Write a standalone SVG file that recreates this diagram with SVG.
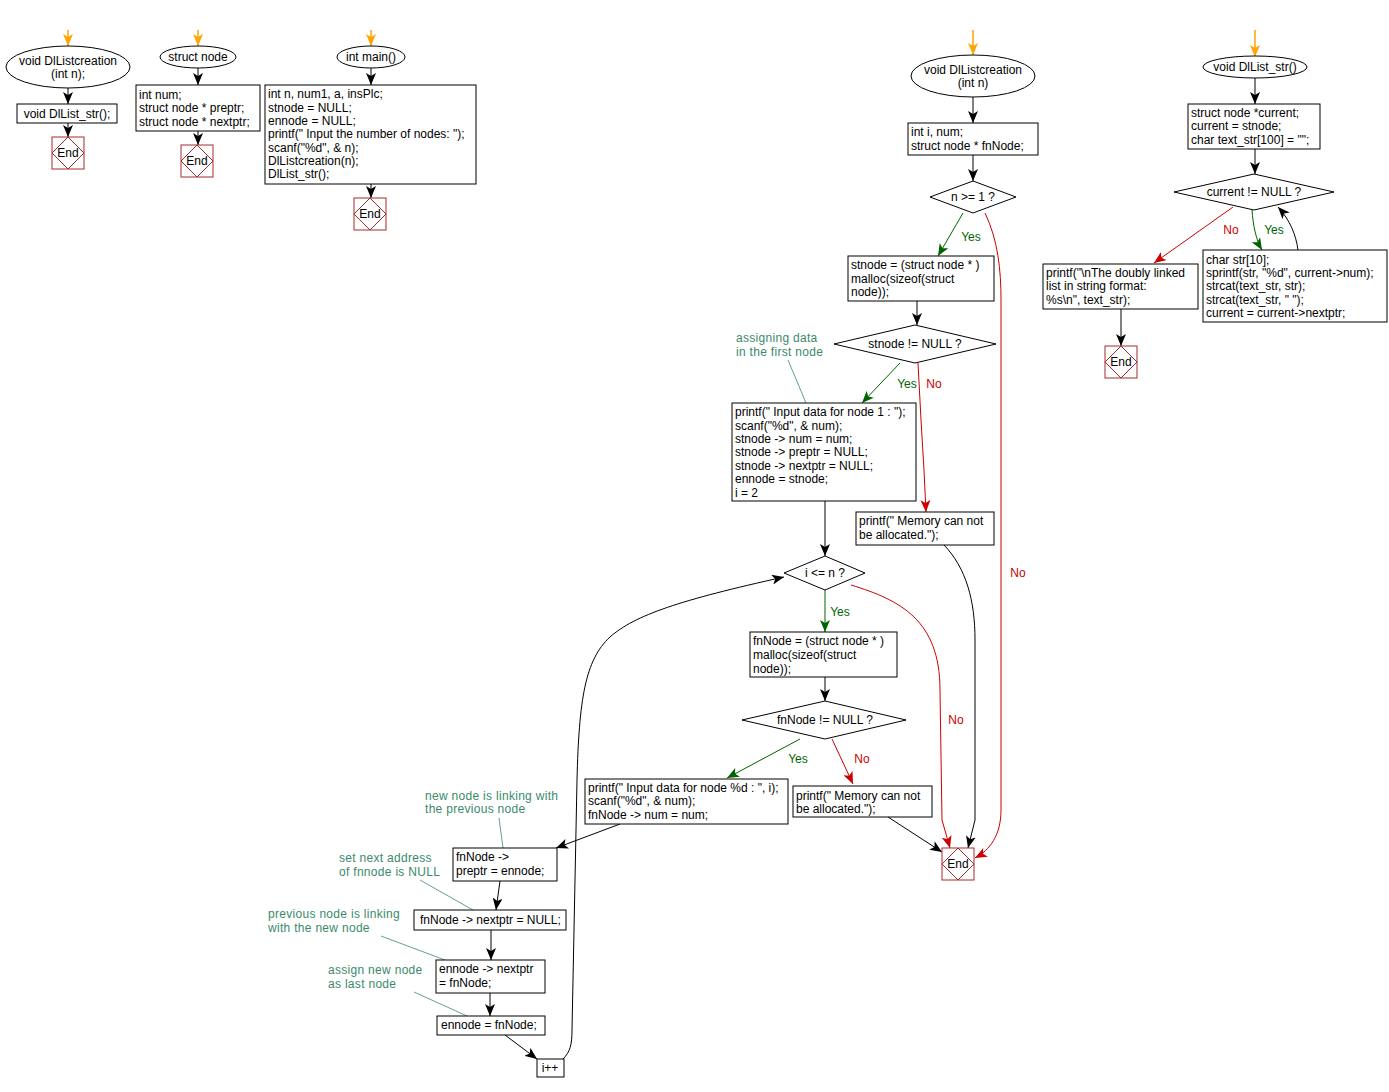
<svg xmlns="http://www.w3.org/2000/svg" width="1389" height="1092" viewBox="0 0 1389 1092">
<defs>
<marker id="ab" markerUnits="userSpaceOnUse" markerWidth="12" markerHeight="10" viewBox="0 0 12 10" refX="12" refY="5" orient="auto"><path d="M0,0 L12,5 L0,10 L3,5 z" fill="#000"/></marker>
<marker id="ag" markerUnits="userSpaceOnUse" markerWidth="12" markerHeight="10" viewBox="0 0 12 10" refX="12" refY="5" orient="auto"><path d="M0,0 L12,5 L0,10 L3,5 z" fill="#006400"/></marker>
<marker id="ar" markerUnits="userSpaceOnUse" markerWidth="12" markerHeight="10" viewBox="0 0 12 10" refX="12" refY="5" orient="auto"><path d="M0,0 L12,5 L0,10 L3,5 z" fill="#cc0000"/></marker>
<marker id="ao" markerUnits="userSpaceOnUse" markerWidth="12" markerHeight="10" viewBox="0 0 12 10" refX="12" refY="5" orient="auto"><path d="M0,0 L12,5 L0,10 L3,5 z" fill="#ffa500"/></marker>
</defs>
<style>
text{font-family:"Liberation Sans",Arial,sans-serif;font-size:12px;fill:#000}
.c{text-anchor:middle}
.box{fill:#fff;stroke:#000;stroke-width:1}
.end rect,.end polygon{fill:none;stroke:#a52a2a;stroke-width:1}
.bk{fill:none;stroke:#000;stroke-width:1;marker-end:url(#ab)}
.gr{fill:none;stroke:#006400;stroke-width:1;marker-end:url(#ag)}
.rd{fill:none;stroke:#cc0000;stroke-width:1;marker-end:url(#ar)}
.or{fill:none;stroke:#ffa500;stroke-width:1.5;marker-end:url(#ao)}
.gl{fill:#006400}
.rl{fill:#cc0000}
.note{fill:#3a8a6a;letter-spacing:0.3px}
.ld{fill:none;stroke:#3a8a6a;stroke-width:0.8}
</style>
<rect width="1389" height="1092" fill="#fff"/>

<g id="connectors">
<line class="or" x1="68" y1="30" x2="68" y2="46"/>
<line class="bk" x1="68" y1="88" x2="68" y2="104"/>
<line class="bk" x1="68" y1="123" x2="68" y2="137"/>
<line class="or" x1="198" y1="30" x2="198" y2="46"/>
<line class="bk" x1="198" y1="68" x2="198" y2="85"/>
<line class="bk" x1="198" y1="131" x2="198" y2="145"/>
<line class="or" x1="371" y1="30" x2="371" y2="46"/>
<line class="bk" x1="371" y1="68" x2="371" y2="85"/>
<line class="bk" x1="371" y1="184" x2="371" y2="198"/>

<line class="or" x1="973" y1="30" x2="973" y2="55"/>
<line class="bk" x1="973" y1="97" x2="973" y2="123"/>
<line class="bk" x1="973" y1="155" x2="973" y2="181"/>
<line class="gr" x1="963" y1="213" x2="938" y2="256"/>
<text class="gl c" x="971" y="241">Yes</text>
<line class="bk" x1="917" y1="301" x2="917" y2="325"/>
<line class="gr" x1="900" y1="363" x2="862" y2="403"/>
<text class="gl c" x="907" y="388">Yes</text>
<path class="rd" d="M918,363 L921,420 L924,470 L926,512"/>
<text class="rl c" x="934" y="388">No</text>
<path class="bk" d="M944,545 C966,568 975,600 975,640 L975,820 L968,848"/>
<path class="rd" d="M985,213 C998,240 1001,270 1001,300 L1001,810 C1001,835 990,850 975,858"/>
<text class="rl c" x="1018" y="577">No</text>
<line class="bk" x1="825" y1="501" x2="825" y2="556"/>
<line class="gr" x1="825" y1="590" x2="825" y2="632"/>
<text class="gl c" x="840" y="616">Yes</text>
<path class="rd" d="M851,585 C900,600 940,620 940,690 L942,820 L950,848"/>
<text class="rl c" x="956" y="724">No</text>
<line class="bk" x1="825" y1="677" x2="825" y2="701"/>
<line class="gr" x1="800" y1="739" x2="727" y2="778"/>
<text class="gl c" x="798" y="763">Yes</text>
<line class="rd" x1="832" y1="739" x2="853" y2="784"/>
<text class="rl c" x="862" y="763">No</text>
<line class="bk" x1="888" y1="817" x2="942" y2="852"/>
<line class="bk" x1="620" y1="824" x2="556" y2="848"/>
<line class="bk" x1="500" y1="881" x2="496" y2="910"/>
<line class="bk" x1="491" y1="930" x2="491" y2="960"/>
<line class="bk" x1="490" y1="993" x2="490" y2="1016"/>
<line class="bk" x1="505" y1="1035" x2="537" y2="1059"/>
<path class="bk" d="M563,1059 C570,1052 572,1045 572,1030 L577,780 C579,700 585,660 610,637 C635,615 680,600 784,577"/>

<line class="or" x1="1255" y1="30" x2="1255" y2="57"/>
<line class="bk" x1="1255" y1="78" x2="1255" y2="104"/>
<line class="bk" x1="1255" y1="149" x2="1255" y2="174"/>
<line class="rd" x1="1233" y1="207" x2="1154" y2="263"/>
<text class="rl c" x="1231" y="234">No</text>
<path class="gr" d="M1252,210 C1253,225 1256,240 1262,250"/>
<text class="gl c" x="1274" y="234">Yes</text>
<path class="bk" d="M1298,250 C1296,235 1290,220 1278,207"/>
<line class="bk" x1="1121" y1="309" x2="1121" y2="346"/>

<line class="ld" x1="788" y1="360" x2="806" y2="403"/>
<line class="ld" x1="499" y1="818" x2="503" y2="848"/>
<line class="ld" x1="420" y1="880" x2="473" y2="910"/>
<line class="ld" x1="381" y1="936" x2="445" y2="960"/>
<line class="ld" x1="414" y1="992" x2="467" y2="1016"/>
</g>

<g id="n1"><ellipse class="box" cx="68" cy="67" rx="62" ry="21"/><text class="c" x="68" y="65">void DlListcreation</text><text class="c" x="68" y="78">(int n);</text></g>
<g id="n2"><rect class="box" x="17" y="104" width="100" height="19"/><text class="c" x="67" y="118">void DlList_str();</text></g>
<g id="n3" class="end"><rect x="52" y="137" width="32" height="32"/><polygon points="68,137 84,153 68,169 52,153"/><text class="c" x="68" y="157">End</text></g>

<g id="n4"><ellipse class="box" cx="198" cy="57" rx="38" ry="11"/><text class="c" x="198" y="61">struct node</text></g>
<g id="n5"><rect class="box" x="136" y="85" width="124" height="46"/><text x="139" y="99">int num;</text><text x="139" y="112">struct node * preptr;</text><text x="139" y="126">struct node * nextptr;</text></g>
<g id="n6" class="end"><rect x="181" y="145" width="32" height="32"/><polygon points="197,145 213,161 197,177 181,161"/><text class="c" x="197" y="165">End</text></g>

<g id="n7"><ellipse class="box" cx="371" cy="57" rx="34" ry="11"/><text class="c" x="371" y="61">int main()</text></g>
<g id="n8"><rect class="box" x="265" y="85" width="211" height="99"/><text x="268" y="98">int n, num1, a, insPlc;</text><text x="268" y="112">stnode = NULL;</text><text x="268" y="125">ennode = NULL;</text><text x="268" y="138">printf(" Input the number of nodes: ");</text><text x="268" y="152">scanf("%d", &amp; n);</text><text x="268" y="165">DlListcreation(n);</text><text x="268" y="178">DlList_str();</text></g>
<g id="n9" class="end"><rect x="354" y="198" width="32" height="32"/><polygon points="370,198 386,214 370,230 354,214"/><text class="c" x="370" y="218">End</text></g>

<g id="n10"><ellipse class="box" cx="973" cy="76" rx="62" ry="21"/><text class="c" x="973" y="74">void DlListcreation</text><text class="c" x="973" y="87">(int n)</text></g>
<g id="n11"><rect class="box" x="908" y="123" width="130" height="32"/><text x="911" y="136">int i, num;</text><text x="911" y="150">struct node * fnNode;</text></g>
<g id="n12"><polygon class="box" points="930,197 973,181 1016,197 973,213"/><text class="c" x="973" y="201">n &gt;= 1 ?</text></g>
<g id="n13"><rect class="box" x="848" y="256" width="146" height="45"/><text x="851" y="269">stnode = (struct node * )</text><text x="851" y="283">malloc(sizeof(struct</text><text x="851" y="296">node));</text></g>
<g id="n14"><polygon class="box" points="834,344 915,325 996,344 915,363"/><text class="c" x="915" y="348">stnode != NULL ?</text></g>
<g id="n15"><rect class="box" x="732" y="403" width="184" height="98"/><text x="735" y="416">printf(" Input data for node 1 : ");</text><text x="735" y="430">scanf("%d", &amp; num);</text><text x="735" y="443">stnode -&gt; num = num;</text><text x="735" y="456">stnode -&gt; preptr = NULL;</text><text x="735" y="470">stnode -&gt; nextptr = NULL;</text><text x="735" y="483">ennode = stnode;</text><text x="735" y="497">i = 2</text></g>
<g id="a1"><text class="note" x="736" y="342">assigning data</text><text class="note" x="736" y="356">in the first node</text></g>
<g id="n16"><rect class="box" x="856" y="512" width="138" height="33"/><text x="859" y="525">printf(" Memory can not</text><text x="859" y="539">be allocated.");</text></g>
<g id="n17"><polygon class="box" points="784,573 825,556 865,573 825,590"/><text class="c" x="825" y="577">i &lt;= n ?</text></g>
<g id="n18"><rect class="box" x="750" y="632" width="147" height="45"/><text x="753" y="645">fnNode = (struct node * )</text><text x="753" y="659">malloc(sizeof(struct</text><text x="753" y="673">node));</text></g>
<g id="n19"><polygon class="box" points="742,720 825,701 906,720 825,739"/><text class="c" x="825" y="724">fnNode != NULL ?</text></g>
<g id="n20"><rect class="box" x="585" y="779" width="203" height="45"/><text x="588" y="792">printf(" Input data for node %d : ", i);</text><text x="588" y="805">scanf("%d", &amp; num);</text><text x="588" y="819">fnNode -&gt; num = num;</text></g>
<g id="n21"><rect class="box" x="793" y="786" width="139" height="31"/><text x="796" y="800">printf(" Memory can not</text><text x="796" y="813">be allocated.");</text></g>
<g id="n22" class="end"><rect x="942" y="848" width="32" height="32"/><polygon points="958,848 974,864 958,880 942,864"/><text class="c" x="958" y="868">End</text></g>
<g id="n23"><rect class="box" x="453" y="848" width="104" height="33"/><text x="456" y="861">fnNode -&gt;</text><text x="456" y="875">preptr = ennode;</text></g>
<g id="a2"><text class="note" x="425" y="800">new node is linking with</text><text class="note" x="425" y="813">the previous node</text></g>
<g id="n24"><rect class="box" x="414" y="910" width="152" height="20"/><text x="420" y="924">fnNode -&gt; nextptr = NULL;</text></g>
<g id="a3"><text class="note" x="339" y="862">set next address</text><text class="note" x="339" y="876">of fnnode is NULL</text></g>
<g id="n25"><rect class="box" x="436" y="960" width="109" height="33"/><text x="439" y="973">ennode -&gt; nextptr</text><text x="439" y="987">= fnNode;</text></g>
<g id="a4"><text class="note" x="268" y="918">previous node is linking</text><text class="note" x="268" y="932">with the new node</text></g>
<g id="n26"><rect class="box" x="437" y="1016" width="108" height="19"/><text x="441" y="1029">ennode = fnNode;</text></g>
<g id="a5"><text class="note" x="328" y="974">assign new node</text><text class="note" x="328" y="988">as last node</text></g>
<g id="n27"><rect class="box" x="537" y="1059" width="27" height="18"/><text class="c" x="550" y="1072">i++</text></g>

<g id="n28"><ellipse class="box" cx="1255" cy="67" rx="52" ry="11"/><text class="c" x="1255" y="71">void DlList_str()</text></g>
<g id="n29"><rect class="box" x="1188" y="104" width="132" height="45"/><text x="1191" y="117">struct node *current;</text><text x="1191" y="130">current = stnode;</text><text x="1191" y="144">char text_str[100] = "";</text></g>
<g id="n30"><polygon class="box" points="1174,192 1254,174 1334,192 1254,210"/><text class="c" x="1254" y="196">current != NULL ?</text></g>
<g id="n31"><rect class="box" x="1203" y="250" width="184" height="72"/><text x="1206" y="264">char str[10];</text><text x="1206" y="277">sprintf(str, "%d", current-&gt;num);</text><text x="1206" y="290">strcat(text_str, str);</text><text x="1206" y="304">strcat(text_str, " ");</text><text x="1206" y="317">current = current-&gt;nextptr;</text></g>
<g id="n32"><rect class="box" x="1043" y="264" width="155" height="45"/><text x="1046" y="277">printf("\nThe doubly linked</text><text x="1046" y="290">list in string format:</text><text x="1046" y="304">%s\n", text_str);</text></g>
<g id="n33" class="end"><rect x="1105" y="346" width="32" height="32"/><polygon points="1121,346 1137,362 1121,378 1105,362"/><text class="c" x="1121" y="366">End</text></g>
</svg>
